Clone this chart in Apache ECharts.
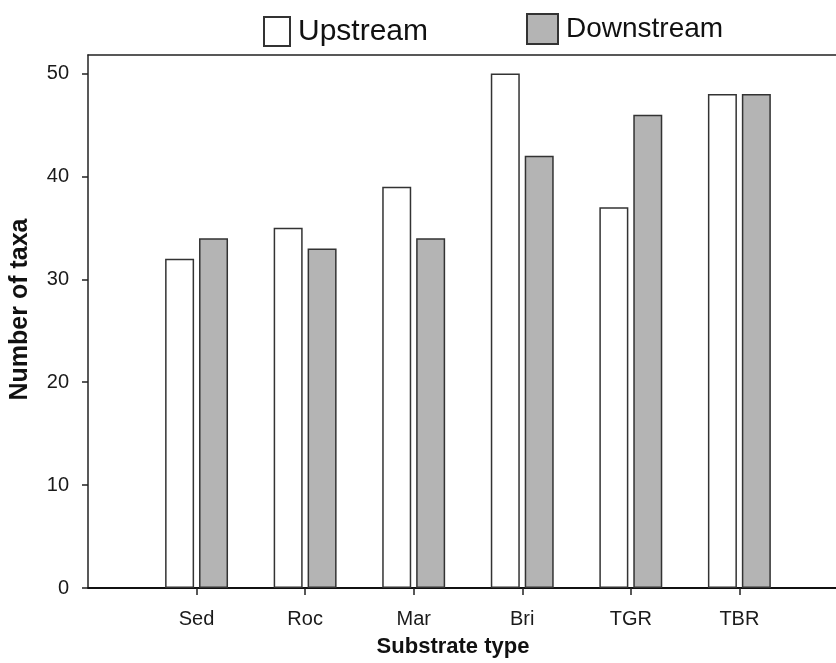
<!DOCTYPE html>
<html>
<head>
<meta charset="utf-8">
<script src="https://cdn.jsdelivr.net/npm/echarts@6/dist/echarts.min.js"></script>
<style>
  html, body { margin: 0; padding: 0; background: #fff; }
  #chart { width: 836px; height: 663px; }
</style>
</head>
<body>
<div id="chart"></div>
<script>
const categories = ['Sed', 'Roc', 'Mar', 'Bri', 'TGR', 'TBR'];
const upstream = [32, 35, 39, 50, 37, 48];
const downstream = [34, 33, 34, 42, 46, 48];
const yTicks = [0, 10, 20, 30, 40, 50];
const seriesNames = ['Upstream', 'Downstream'];

const catPos = categories.map((c, i) => i + 1);
const toPairs = vals => vals.map((v, i) => [catPos[i], v]);

const sans = "'Liberation Sans', Arial, sans-serif";

const chart = echarts.init(document.getElementById('chart'), null, { renderer: 'canvas' });
chart.setOption({
  animation: false,
  backgroundColor: '#ffffff',
  grid: { left: 88, top: 55, right: 0, bottom: 74, containLabel: false },
  legend: [
    {
      data: [seriesNames[0]], left: 263, top: 16, padding: 0,
      icon: 'rect', itemWidth: 26, itemHeight: 29,
      textStyle: { fontFamily: sans, fontSize: 30, color: '#111', padding: [4, 0, 0, 3] }
    },
    {
      data: [seriesNames[1]], left: 526, top: 13, padding: 0,
      icon: 'rect', itemWidth: 31, itemHeight: 30,
      textStyle: { fontFamily: sans, fontSize: 28, color: '#111', padding: [0, 0, 0, 3] }
    }
  ],
  xAxis: [
    {
      type: 'value', min: 0, max: 6.89, interval: 1,
      position: 'bottom',
      name: 'Substrate type', nameLocation: 'middle', nameGap: 48,
      nameTextStyle: { fontFamily: sans, fontSize: 22, fontWeight: 'bold', color: '#111', padding: [0, 18, 0, 0] },
      splitLine: { show: false },
      axisLine: { show: true, lineStyle: { color: '#111', width: 2 } },
      axisTick: { show: true, inside: false, length: 7, customValues: catPos, lineStyle: { color: '#222', width: 1.5 } },
      axisLabel: {
        show: true, margin: 21, customValues: catPos,
        fontFamily: sans, fontSize: 20, color: '#1a1a1a',
        formatter: v => categories[Math.round(v) - 1] || ''
      }
    },
    {
      type: 'value', min: 0, max: 6.89, position: 'top',
      axisLine: { show: true, onZero: false, lineStyle: { color: '#222', width: 1.5 } },
      axisTick: { show: false }, axisLabel: { show: false }, splitLine: { show: false }
    }
  ],
  yAxis: {
    type: 'value', min: 0, max: 51.8, interval: 10,
    name: 'Number of taxa', nameLocation: 'middle', nameGap: 55,
    nameTextStyle: { fontFamily: sans, fontSize: 25, fontWeight: 'bold', color: '#111', padding: [0, 0, 0, 24] },
    splitLine: { show: false },
    axisLine: { show: true, lineStyle: { color: '#222', width: 1.5 } },
    axisTick: { show: true, inside: false, length: 6, customValues: yTicks, lineStyle: { color: '#222', width: 1.5 } },
    axisLabel: { margin: 19, customValues: yTicks, fontFamily: sans, fontSize: 20, color: '#1a1a1a' }
  },
  series: [
    {
      name: seriesNames[0], type: 'bar', xAxisIndex: 0,
      data: toPairs(upstream), barWidth: 29, barGap: '17%',
      itemStyle: { color: '#ffffff', borderColor: '#333', borderWidth: 1.5 }
    },
    {
      name: seriesNames[1], type: 'bar', xAxisIndex: 0,
      data: toPairs(downstream), barWidth: 29, barGap: '17%',
      itemStyle: { color: '#b4b4b4', borderColor: '#333', borderWidth: 1.5 }
    }
  ]
});
</script>
</body>
</html>
